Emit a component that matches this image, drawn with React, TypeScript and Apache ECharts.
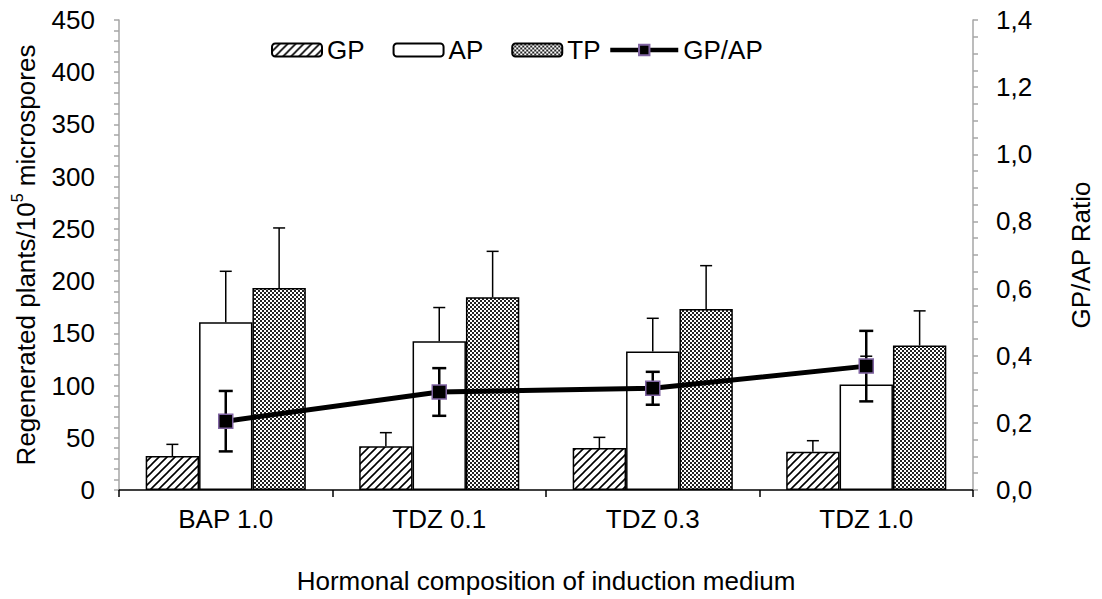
import React, { useEffect, useRef } from "react";
import * as echarts from "echarts";

// Induction media (x categories)
const categories = ["BAP 1.0", "TDZ 0.1", "TDZ 0.3", "TDZ 1.0"];

// Regenerated plants per 10^5 microspores
const gpValues = [32.5, 41.8, 40.2, 36.7];
const gpErrors = [11.2, 13.1, 10.2, 10.5];
const apValues = [160.6, 142.4, 132.6, 101.0];
const apErrors = [48.8, 32.3, 31.8, 27.1];
const tpValues = [193.5, 184.5, 173.4, 138.3];
const tpErrors = [57.4, 44.0, 41.4, 33.2];

// Green / albino plant ratio
const ratioValues = [0.205, 0.292, 0.303, 0.369];
const ratioErrors = [0.09, 0.071, 0.049, 0.105];

const FONT = "'Liberation Sans', Arial, sans-serif";
const BAR_CATEGORY_GAP = 0.25;

function hatchCanvas() {
  const c = document.createElement("canvas");
  c.width = 8;
  c.height = 8;
  const g = c.getContext("2d")!;
  g.fillStyle = "#fff";
  g.fillRect(0, 0, 8, 8);
  g.strokeStyle = "#000";
  g.lineWidth = 1.6;
  g.beginPath();
  g.moveTo(0, 8);
  g.lineTo(8, 0);
  g.moveTo(-2, 2);
  g.lineTo(2, -2);
  g.moveTo(6, 10);
  g.lineTo(10, 6);
  g.stroke();
  return c;
}

function checkerCanvas() {
  const c = document.createElement("canvas");
  c.width = 4;
  c.height = 4;
  const g = c.getContext("2d")!;
  g.fillStyle = "#fff";
  g.fillRect(0, 0, 4, 4);
  g.fillStyle = "#222";
  g.fillRect(0, 0, 2, 2);
  g.fillRect(2, 2, 2, 2);
  return c;
}

// Upward error bars drawn at the centre of the bar in the given slot (-1, 0, 1)
function barErrorSeries(id: string, values: number[], errors: number[], slot: number) {
  return {
    type: "custom",
    id,
    silent: true,
    z: 3,
    xAxisIndex: 0,
    yAxisIndex: 0,
    encode: { x: 0, y: [1, 2] },
    data: values.map((v, i) => [i, v, v + errors[i]]),
    renderItem: (params: any, api: any) => {
      const i = api.value(0);
      const base = api.coord([i, api.value(1)]);
      const top = api.coord([i, api.value(2)]);
      const band = api.size([1, 0])[0];
      const barW = (band * (1 - BAR_CATEGORY_GAP)) / 3;
      const x = base[0] + slot * barW;
      const cap = 6;
      const style = { stroke: "#000", lineWidth: 1.5 };
      return {
        type: "group",
        children: [
          { type: "line", shape: { x1: x, y1: base[1], x2: x, y2: top[1] }, style },
          { type: "line", shape: { x1: x - cap, y1: top[1], x2: x + cap, y2: top[1] }, style },
        ],
      };
    },
  };
}

function ratioErrorSeries() {
  return {
    type: "custom",
    id: "ratio-error",
    silent: true,
    z: 4,
    xAxisIndex: 0,
    yAxisIndex: 1,
    encode: { x: 0, y: [1, 2] },
    data: ratioValues.map((v, i) => [i, v - ratioErrors[i], v + ratioErrors[i]]),
    renderItem: (params: any, api: any) => {
      const i = api.value(0);
      const lo = api.coord([i, api.value(1)]);
      const hi = api.coord([i, api.value(2)]);
      const x = lo[0];
      const cap = 7;
      const style = { stroke: "#000", lineWidth: 2.5 };
      return {
        type: "group",
        children: [
          { type: "line", shape: { x1: x, y1: lo[1], x2: x, y2: hi[1] }, style },
          { type: "line", shape: { x1: x - cap, y1: hi[1], x2: x + cap, y2: hi[1] }, style },
          { type: "line", shape: { x1: x - cap, y1: lo[1], x2: x + cap, y2: lo[1] }, style },
        ],
      };
    },
  };
}

export default function App() {
  const ref = useRef<HTMLDivElement>(null);

  useEffect(() => {
    if (!ref.current) return;
    const chart = echarts.init(ref.current, undefined, { renderer: "svg" });

    const hatch = { image: hatchCanvas(), repeat: "repeat", imageWidth: 8, imageHeight: 8 };
    const checker = { image: checkerCanvas(), repeat: "repeat", imageWidth: 4, imageHeight: 4 };
    const gray = "#A6A6A6";
    const fontSize = 26;
    const legendText = { fontSize, color: "#000", fontFamily: FONT };

    chart.setOption({
      animation: false,
      backgroundColor: "#fff",
      textStyle: { fontFamily: FONT, color: "#000" },
      grid: { left: 119, right: 127, top: 20, bottom: 108, containLabel: false },
      legend: [
        {
          data: ["GP", "AP", "TP"],
          left: 266,
          top: 32,
          itemWidth: 50,
          itemHeight: 13,
          itemGap: 28,
          textStyle: legendText,
        },
        {
          data: ["GP/AP"],
          left: 603,
          top: 32,
          itemWidth: 68,
          itemHeight: 13,
          lineStyle: { width: 4.5 },
          textStyle: legendText,
        },
      ],
      xAxis: {
        type: "category",
        data: categories,
        axisLine: { lineStyle: { color: "#000", width: 1.5 } },
        axisTick: { show: true, length: 7, lineStyle: { color: "#000", width: 1.5 } },
        axisLabel: { color: "#000", fontSize, margin: 16, fontFamily: FONT },
        name: "Hormonal composition of induction medium",
        nameLocation: "middle",
        nameGap: 78,
        nameTextStyle: { fontSize, color: "#000", fontFamily: FONT },
        splitLine: { show: false },
      },
      yAxis: [
        {
          type: "value",
          min: 0,
          max: 450,
          interval: 50,
          axisLine: { show: true, lineStyle: { color: gray, width: 1.5 } },
          axisTick: { show: true, length: 5, lineStyle: { color: gray, width: 1.5 } },
          minorTick: { show: true, splitNumber: 5, length: 5, lineStyle: { color: gray, width: 1.5 } },
          splitLine: { show: false },
          axisLabel: { color: "#000", fontSize, margin: 24, fontFamily: FONT },
          name: "{a|Regenerated plants/10}{s|5}{a| microspores}",
          nameLocation: "middle",
          nameRotate: 90,
          nameGap: 80,
          nameTextStyle: {
            rich: {
              a: { fontSize, color: "#000", fontFamily: FONT, lineHeight: 30, verticalAlign: "bottom" },
              s: { fontSize: 16, color: "#000", fontFamily: FONT, lineHeight: 30, verticalAlign: "top", padding: [0, 0, 12, 0] },
            },
          },
        },
        {
          type: "value",
          position: "right",
          min: 0,
          max: 1.4,
          interval: 0.2,
          axisLine: { show: true, lineStyle: { color: gray, width: 1.5 } },
          axisTick: { show: true, length: 5, lineStyle: { color: gray, width: 1.5 } },
          minorTick: { show: true, splitNumber: 4, length: 5, lineStyle: { color: gray, width: 1.5 } },
          splitLine: { show: false },
          axisLabel: {
            color: "#000",
            fontSize,
            margin: 23,
            fontFamily: FONT,
            formatter: (v: number) => v.toFixed(1).replace(".", ","),
          },
          name: "GP/AP Ratio",
          nameLocation: "middle",
          nameRotate: 90,
          nameGap: 95,
          nameTextStyle: { fontSize, color: "#000", fontFamily: FONT },
        },
      ],
      series: [
        {
          name: "GP",
          type: "bar",
          data: gpValues,
          barGap: "0%",
          barCategoryGap: BAR_CATEGORY_GAP * 100 + "%",
          itemStyle: { color: hatch, borderColor: "#000", borderWidth: 1.5 },
          z: 2,
        },
        {
          name: "AP",
          type: "bar",
          data: apValues,
          barGap: "0%",
          barCategoryGap: BAR_CATEGORY_GAP * 100 + "%",
          itemStyle: { color: "#fff", borderColor: "#000", borderWidth: 1.5 },
          z: 2,
        },
        {
          name: "TP",
          type: "bar",
          data: tpValues,
          barGap: "0%",
          barCategoryGap: BAR_CATEGORY_GAP * 100 + "%",
          itemStyle: { color: checker, borderColor: "#000", borderWidth: 1.5 },
          z: 2,
        },
        barErrorSeries("gp-error", gpValues, gpErrors, -1),
        barErrorSeries("ap-error", apValues, apErrors, 0),
        barErrorSeries("tp-error", tpValues, tpErrors, 1),
        ratioErrorSeries(),
        {
          name: "GP/AP",
          type: "line",
          yAxisIndex: 1,
          data: ratioValues,
          symbol: "rect",
          symbolSize: 14,
          z: 5,
          lineStyle: { color: "#000", width: 5 },
          itemStyle: { color: "#000", borderColor: "#8064A2", borderWidth: 1.5 },
        },
      ],
    });

    return () => chart.dispose();
  }, []);

  return (
    <div
      ref={ref}
      style={{ position: "absolute", left: 0, top: 0, width: 1102, height: 599, background: "#fff" }}
    />
  );
}
